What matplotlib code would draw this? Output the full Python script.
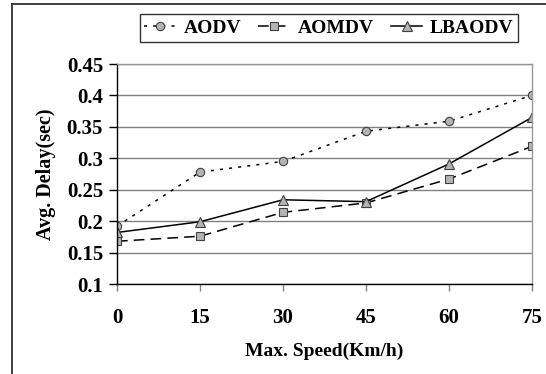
import matplotlib.pyplot as plt
from matplotlib.lines import Line2D

speeds = [0, 15, 30, 45, 60, 75]
aodv = [0.192, 0.278, 0.295, 0.343, 0.359, 0.400]
aomdv = [0.168, 0.176, 0.214, 0.229, 0.267, 0.319]
lbaodv = [0.182, 0.199, 0.234, 0.231, 0.291, 0.365]
yticks = [0.1, 0.15, 0.2, 0.25, 0.3, 0.35, 0.4, 0.45]
ytick_labels = ['0.1', '0.15', '0.2', '0.25', '0.3', '0.35', '0.4', '0.45']

plt.rcParams['font.family'] = ['Liberation Serif', 'DejaVu Serif']
plt.rcParams['font.weight'] = 'bold'

fig = plt.figure(figsize=(5.46, 3.74), dpi=100)
ax = fig.add_axes([117 / 546, 1 - 284 / 374, 415 / 546, 220 / 374])

mk = dict(markerfacecolor='#b4b4b4', markeredgecolor='#404040', markeredgewidth=0.8, color='black', linewidth=1.1)
ax.plot(speeds, aodv, linestyle=(0, (2, 4)), marker='o', markersize=6, label='AODV', **mk)
ax.plot(speeds, aomdv, linestyle=(0, (7, 4)), marker='s', markersize=6, label='AOMDV', **mk)
ax.plot(speeds, lbaodv, linestyle='-', marker='^', markersize=6.5, label='LBAODV', **mk)

ax.set_xlim(0, 75)
ax.set_ylim(0.1, 0.45)
ax.set_xticks(speeds)
ax.set_xticklabels([str(s) for s in speeds], fontsize=15, fontweight='bold')
ax.set_yticks(yticks)
ax.set_yticklabels(ytick_labels, fontsize=15, fontweight='bold')
ax.tick_params(axis='y', length=6, width=1, color='black', pad=4)
ax.tick_params(axis='x', length=5, width=1, color='#808080', pad=12)
ax.grid(axis='y', color='#808080', linewidth=1)
ax.set_axisbelow(True)

ax.spines['left'].set_color('black')
ax.spines['bottom'].set_color('black')
ax.spines['top'].set_color('#999999')
ax.spines['right'].set_color('#999999')
for s in ax.spines.values():
    s.set_linewidth(1)

ax.set_xlabel('Max. Speed(Km/h)', fontsize=14, fontweight='bold', labelpad=11)
ax.set_ylabel('Avg. Delay(sec)', fontsize=14.5, fontweight='bold', labelpad=8)

leg = fig.legend(loc='center', bbox_to_anchor=(329 / 546, 1 - 28 / 374), ncol=3,
                 frameon=True, fancybox=False, edgecolor='black',
                 handlelength=1.6, handletextpad=0.4, columnspacing=0.9,
                 borderpad=0.25, prop={'weight': 'bold', 'size': 14})
leg.get_frame().set_linewidth(1)

# outer frame (left and top edges visible)
fig.add_artist(Line2D([12 / 546, 12 / 546], [0, 1 - 4 / 374], color='#303030', linewidth=1.3, transform=fig.transFigure))
fig.add_artist(Line2D([12 / 546, 1], [1 - 4 / 374, 1 - 4 / 374], color='#303030', linewidth=1.3, transform=fig.transFigure))

fig.savefig('out.png', dpi=100)
